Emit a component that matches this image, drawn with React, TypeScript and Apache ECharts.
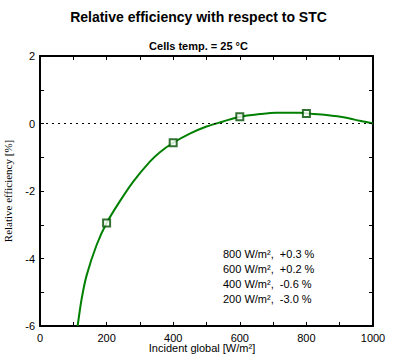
import React, { useEffect, useRef } from "react";
import * as echarts from "echarts";

const irradiance = [113, 125, 140, 170, 200, 240, 280, 330, 360, 400, 450, 500, 550, 600, 660, 710, 780, 800, 860, 920, 960, 1000];
const efficiency = [-6.0, -5.2, -4.5, -3.6, -2.95, -2.3, -1.72, -1.13, -0.85, -0.57, -0.3, -0.09, 0.06, 0.2, 0.28, 0.32, 0.32, 0.3, 0.25, 0.17, 0.08, 0];
const markerIrr = [200, 400, 600, 800];
const markerEff = [-2.95, -0.57, 0.2, 0.3];
const legendLines = ["800 W/m\u00b2,  +0.3 %", "600 W/m\u00b2,  +0.2 %", "400 W/m\u00b2,  -0.6 %", "200 W/m\u00b2,  -3.0 %"];
const titleText = "Relative efficiency with respect to STC";
const subtitleText = "Cells temp. = 25 \u00b0C";
const xName = "Incident global [W/m\u00b2]";
const yName = "Relative efficiency [%]";

const SANS = "'Liberation Sans', Arial, sans-serif";

export default function App() {
  const ref = useRef<HTMLDivElement>(null);
  useEffect(() => {
    const chart = echarts.init(ref.current!, null, { renderer: "svg" });
    const axisCommon = {
      axisLine: { show: true, onZero: false, lineStyle: { color: "#000", width: 2 } },
      axisTick: { show: true, inside: true, length: 4, lineStyle: { color: "#000", width: 1 } },
      splitLine: { show: false },
    };
    chart.setOption({
      animation: false,
      backgroundColor: "#fff",
      textStyle: { fontFamily: SANS },
      grid: { left: 40, right: 24, top: 56, bottom: 29, containLabel: false, outerBoundsMode: "none" },
      xAxis: [
        {
          type: "value", min: 0, max: 1000, interval: 100, position: "bottom",
          ...axisCommon,
          axisLabel: {
            color: "#000", fontSize: 11, fontFamily: SANS, margin: 6,
            formatter: (v: number) => (v % 200 === 0 ? String(v) : ""),
          },
        },
        {
          type: "value", min: 0, max: 1000, interval: 100, position: "top",
          ...axisCommon,
          axisLabel: { show: false },
        },
      ],
      yAxis: [
        {
          type: "value", min: -6, max: 2, interval: 1, position: "left",
          ...axisCommon,
          axisLabel: {
            color: "#000", fontSize: 11, fontFamily: SANS, margin: 5,
            formatter: (v: number) => (Math.abs(v) % 2 === 0 ? String(v) : ""),
          },
          name: yName, nameLocation: "middle", nameGap: 27, nameRotate: 90,
          nameTextStyle: { color: "#000", fontSize: 11, fontFamily: "'Liberation Serif', 'Times New Roman', serif" },
        },
        {
          type: "value", min: -6, max: 2, interval: 1, position: "right",
          ...axisCommon,
          axisLabel: { show: false },
        },
      ],
      series: [
        {
          type: "line",
          data: irradiance.map((x, i) => [x, efficiency[i]]),
          smooth: 0.3,
          showSymbol: false,
          symbol: "none",
          lineStyle: { color: "#008000", width: 2 },
          clip: true,
          markLine: {
            silent: true,
            symbol: "none",
            label: { show: false },
            lineStyle: { color: "#000", width: 1, type: [2, 4] },
            data: [{ yAxis: 0 }],
          },
        },
        {
          type: "scatter",
          data: markerIrr.map((x, i) => [x, markerEff[i]]),
          symbol: "rect",
          symbolSize: 7,
          itemStyle: { color: "#fff", borderColor: "#004d00", borderWidth: 2 },
          z: 5,
        },
      ],
      graphic: [
        {
          type: "text", left: "center", top: 10,
          style: { text: titleText, font: `bold 14px ${SANS}`, fill: "#000" },
        },
        {
          type: "text", left: "center", top: 40,
          style: { text: subtitleText, font: `bold 11px ${SANS}`, fill: "#000" },
        },
        {
          type: "text", x: 202, y: 348,
          style: { text: xName, font: `11px ${SANS}`, fill: "#000", align: "center", verticalAlign: "middle" },
        },
        ...legendLines.map((t, i) => ({
          type: "text", left: 223, top: 248 + i * 15.3,
          style: { text: t, font: `11px ${SANS}`, fill: "#000" },
        })),
      ],
    });
    return () => chart.dispose();
  }, []);
  return <div ref={ref} style={{ width: 397, height: 355, position: "absolute", left: 0, top: 0 }} />;
}
